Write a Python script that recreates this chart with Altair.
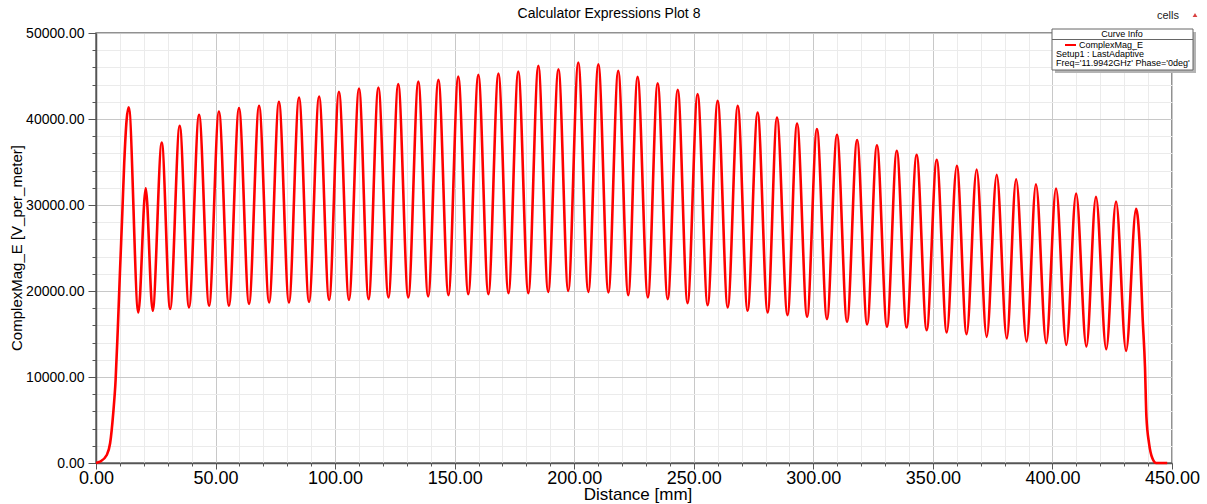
import altair as alt
import pandas as pd

# ---- data ----
rise_mm = [0.0, 1.7, 4.5, 5.9, 7.2, 8.2, 9.1, 10.0, 11.0, 11.8, 12.8]
rise_v = [0, 150, 930, 2290, 5780, 9650, 15470, 22060, 29030, 34850, 39880]

peak_mm = [13.7, 20.8, 27.5, 35.0, 43.1, 51.4, 59.8, 68.2, 76.5, 84.9,
           93.3, 101.6, 110.0, 118.1, 126.4, 134.8, 143.2, 151.5, 159.9, 168.3,
           176.6, 185.0, 193.4, 201.7, 210.1, 218.4, 226.5, 234.9, 243.3, 251.6,
           260.0, 268.4, 276.7, 284.8, 293.2, 301.5, 309.9, 318.3, 326.6, 334.9,
           343.2, 351.6, 360.0, 368.3, 376.7, 384.8, 393.1, 401.5, 409.9, 418.2,
           426.6, 435.0]
peak_v = [41350, 31950, 37250, 39200, 40480, 40870, 41260, 41530, 41990, 42500,
          42610, 43160, 43540, 43660, 44050, 44350, 44550, 44930, 45130, 45280,
          45520, 46180, 45790, 46570, 46370, 45600, 44900, 44160, 43390, 42890,
          42110, 41530, 40750, 40170, 39470, 38820, 38160, 37540, 36950, 36300,
          35830, 35250, 34550, 34130, 33500, 33000, 32420, 31910, 31330, 30950,
          30400, 29550]

trough_mm = [17.7, 23.7, 31.0, 38.9, 47.3, 55.6, 64.0, 72.4, 80.7, 89.1,
             97.5, 105.8, 114.0, 122.3, 130.6, 138.9, 147.4, 155.7, 164.1, 172.5,
             180.8, 189.1, 197.5, 205.9, 214.3, 222.6, 230.8, 239.1, 247.4, 255.8,
             264.2, 272.5, 280.9, 289.2, 297.4, 305.7, 314.1, 322.5, 330.8, 339.0,
             347.4, 355.8, 364.1, 372.5, 380.9, 389.2, 397.4, 405.8, 414.2, 422.5,
             430.8]
trough_v = [17500, 17700, 17900, 18100, 18300, 18300, 18500, 18670, 18670, 18740,
            18970, 18970, 19050, 19250, 19250, 19370, 19520, 19630, 19630, 19750,
            19750, 19900, 20020, 19900, 19830, 19520, 19250, 19050, 18590, 18360,
            18090, 17700, 17500, 17190, 17000, 16730, 16420, 16110, 15840, 15760,
            15450, 15180, 14980, 14670, 14480, 14130, 13940, 13740, 13550, 13240,
            13040]

fall_mm = [436.6, 437.7, 438.7, 439.3, 440.4, 441.8, 443.4, 448.0]
fall_v = [24770, 17010, 11200, 5380, 2290, 550, 0, 0]

x_ticks = list(range(0, 451, 10))
y_ticks = list(range(0, 50001, 2000))

df = pd.DataFrame({
    "distance": rise_mm + peak_mm + trough_mm + fall_mm,
    "emag": rise_v + peak_v + trough_v + fall_v,
})

FONT = "Liberation Sans"

x_axis = alt.Axis(
    values=x_ticks, title=None,
    labelExpr="datum.value % 50 === 0 ? format(datum.value, '.2f') : ''",
    labelFont=FONT, labelFontSize=18, labelColor="#000000", labelPadding=0,
    labelFlush=False, labelOverlap=False,
    tickColor="#555555",
    tickSize={"condition": {"test": "datum.value % 50 === 0", "value": 6}, "value": 3},
    grid=True,
    gridColor={"condition": {"test": "datum.value % 50 === 0", "value": "#c8c8c8"}, "value": "#ebebeb"},
    gridWidth=1, domainColor="#555555", domainWidth=1.5,
)
y_axis = alt.Axis(
    values=y_ticks, title=None,
    labelExpr="datum.value % 10000 === 0 ? format(datum.value, '.2f') : ''",
    labelFont=FONT, labelFontSize=14, labelColor="#000000", labelPadding=4,
    labelOverlap=False, labelFlush=False,
    tickColor="#555555",
    tickSize={"condition": {"test": "datum.value % 10000 === 0", "value": 8}, "value": 4},
    grid=True,
    gridColor={"condition": {"test": "datum.value % 10000 === 0", "value": "#c8c8c8"}, "value": "#ebebeb"},
    gridWidth=1, domainColor="#555555", domainWidth=1.5,
)

line = alt.Chart(df).mark_line(color="#ff0000", strokeWidth=2.6, interpolate="monotone").encode(
    x=alt.X("distance:Q", scale=alt.Scale(domain=[0, 450], nice=False, zero=False), axis=x_axis),
    y=alt.Y("emag:Q", scale=alt.Scale(domain=[0, 50000], nice=False), axis=y_axis),
)

one = pd.DataFrame({"k": [0]})
base = alt.Chart(one)


def label(txt, x, y, size, align="left", color="#000000", angle=0):
    kw = dict(font=FONT, fontSize=size, align=align, baseline="middle", color=color)
    if angle:
        kw["angle"] = angle
    return base.mark_text(**kw).encode(x=alt.value(x), y=alt.value(y), text=alt.value(txt))


title = label("Calculator Expressions Plot 8", 513, -19, 14, align="center")
x_title = label("Distance [mm]", 542, 462, 17, align="center")
y_title = label("ComplexMag_E [V_per_meter]", -79, 215, 15, align="center", angle=270)
cells = label("cells", 1061, -17, 11, color="#222222")
tri = base.mark_point(shape="triangle-up", filled=True, size=22, color="#d94040", opacity=1).encode(
    x=alt.value(1099), y=alt.value(-18))

shadow = base.mark_rect(color="#b4b4b4").encode(
    x=alt.value(959), x2=alt.value(1100), y=alt.value(-1), y2=alt.value(40))
box = base.mark_rect(fill="#ffffff", stroke="#666666", strokeWidth=1).encode(
    x=alt.value(956), x2=alt.value(1097), y=alt.value(-4), y2=alt.value(37))
sep = base.mark_rule(color="#666666", strokeWidth=1).encode(
    x=alt.value(956), x2=alt.value(1097), y=alt.value(6.5))
sample = base.mark_rule(color="#ff0000", strokeWidth=2).encode(
    x=alt.value(969), x2=alt.value(980), y=alt.value(12))
hdr = label("Curve Info", 1026, 1, 9, align="center")
l1 = label("ComplexMag_E", 983, 12, 9)
l2 = label("Setup1 : LastAdaptive", 960, 21, 9)
l3 = label("Freq='11.9942GHz' Phase='0deg'", 960, 30, 9)

chart = alt.layer(
    line, title, x_title, y_title, cells, tri, shadow, box, sep, sample, hdr, l1, l2, l3
).properties(
    width=1076, height=430,
    autosize=alt.AutoSizeParams(type="none"),
    padding={"left": 96, "top": 33, "right": 35, "bottom": 41},
    background="#ffffff",
).configure_view(stroke="#6e6e6e", strokeWidth=1.5)

chart.save("out.html", embed_options={"renderer": "svg", "actions": False})
